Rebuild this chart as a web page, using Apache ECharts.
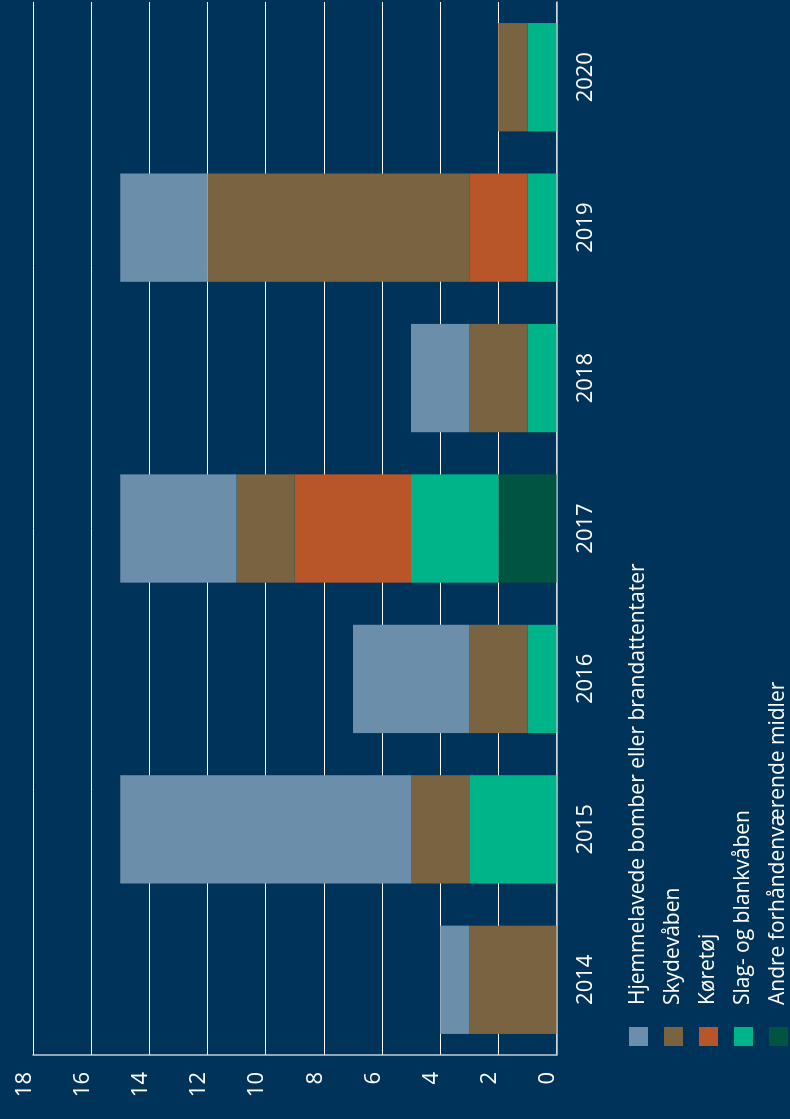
<!DOCTYPE html>
<html>
<head>
<meta charset="utf-8">
<script src="https://cdn.jsdelivr.net/npm/echarts@6/dist/echarts.min.js"></script>
<style>
  html, body { margin: 0; padding: 0; background: #00335a; overflow: hidden; }
  body { width: 790px; height: 1119px; position: relative; }
  /* chart is laid out landscape, then turned a quarter counter-clockwise */
  #chart {
    position: absolute; left: 0; top: 0;
    width: 1119px; height: 790px;
    transform-origin: 0 0;
    transform: translate(0, 1119px) rotate(-90deg);
  }
</style>
</head>
<body>
<div id="chart"></div>
<script>
const years = ['2014', '2015', '2016', '2017', '2018', '2019', '2020'];
const valueTicks = { min: 0, max: 18, interval: 2 };

const hjemmelavede = [1, 10, 4, 4, 2, 3, 0];
const skydevaaben  = [3, 2, 2, 2, 2, 9, 1];
const koeretoej    = [0, 0, 0, 4, 0, 2, 0];
const slagBlank    = [0, 3, 1, 3, 1, 1, 1];
const andre        = [0, 0, 0, 2, 0, 0, 0];

const names = {
  hjem: 'Hjemmelavede bomber eller brandattentater',
  skyd: 'Skydevåben',
  koer: 'Køretøj',
  slag: 'Slag- og blankvåben',
  andre: 'Andre forhåndenværende midler'
};
const colors = {
  hjem: '#6b8fab', skyd: '#7a6340', koer: '#b85629', slag: '#00b48a', andre: '#005540'
};

const font = '"Open Sans", "Noto Sans", sans-serif';

function stackSeries(key, data) {
  return {
    name: names[key], type: 'bar', stack: 'total', data: data,
    barWidth: '72%',
    itemStyle: { color: colors[key] },
    emphasis: { disabled: true }
  };
}

const chart = echarts.init(document.getElementById('chart'), null, { renderer: 'canvas' });
chart.setOption({
  backgroundColor: '#00335a',
  animation: false,
  grid: { left: 64, right: 2, top: 33, bottom: 233.5, containLabel: false },
  legend: {
    orient: 'vertical', left: 73, top: 628, height: 300, padding: 0,
    itemWidth: 19, itemHeight: 19, itemGap: 14,
    icon: 'rect',
    data: [names.hjem, names.skyd, names.koer, names.slag, names.andre],
    textStyle: { color: '#ffffff', fontFamily: font, fontSize: 21, lineHeight: 19, padding: [0, 0, 0, 17] }
  },
  xAxis: {
    type: 'category', data: years,
    axisTick: { show: false },
    axisLine: { lineStyle: { color: '#c3ced8', width: 1.5 } },
    axisLabel: { color: '#ffffff', fontFamily: font, fontSize: 22, margin: 18 }
  },
  yAxis: {
    type: 'value', min: valueTicks.min, max: valueTicks.max, interval: valueTicks.interval,
    axisLine: { show: true, lineStyle: { color: '#c3ced8', width: 1.5 } },
    axisTick: { show: false },
    splitLine: { lineStyle: { color: '#ffffff', width: 1 } },
    axisLabel: {
      color: '#ffffff', fontFamily: font, fontSize: 22, margin: 17,
      verticalAlign: 'bottom', lineHeight: 17
    }
  },
  series: [
    stackSeries('andre', andre),
    stackSeries('slag', slagBlank),
    stackSeries('koer', koeretoej),
    stackSeries('skyd', skydevaaben),
    stackSeries('hjem', hjemmelavede)
  ]
});
</script>
</body>
</html>
